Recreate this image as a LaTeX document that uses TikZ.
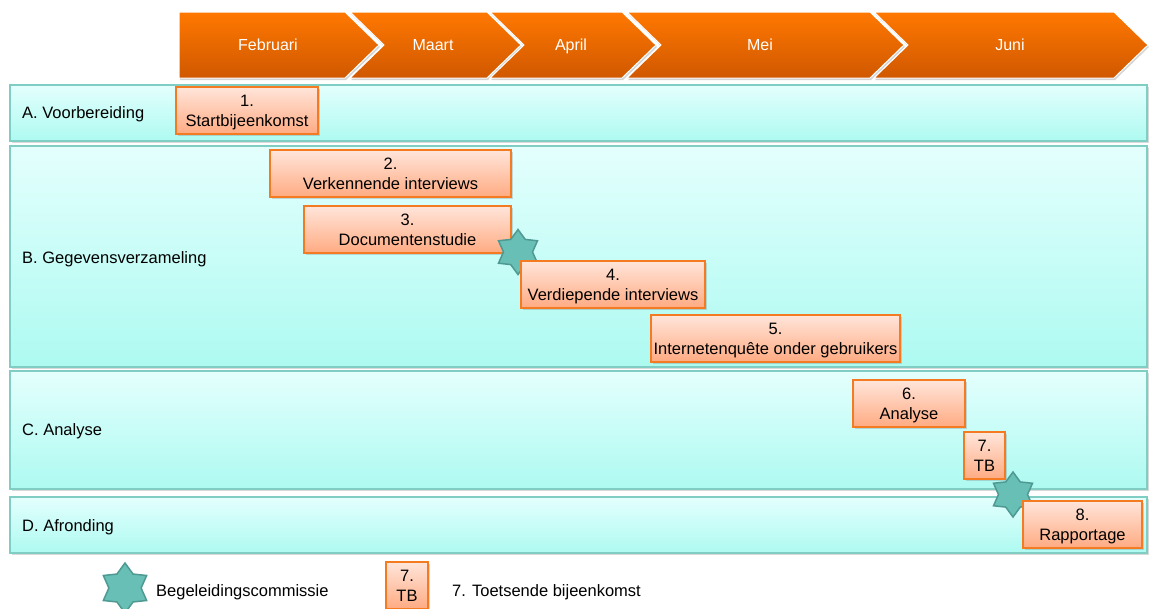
\documentclass[tikz,border=0pt]{standalone}
\usepackage{fontspec}
\setmainfont{Liberation Sans}
\usetikzlibrary{shapes.geometric,shadows}

\definecolor{monthtop}{HTML}{FF7800}
\definecolor{monthbot}{HTML}{D05800}
\definecolor{lanetop}{HTML}{E4FFFD}
\definecolor{lanebot}{HTML}{ADFAF1}
\definecolor{laneline}{HTML}{7FCDC3}
\definecolor{tasktop}{HTML}{FFE5DA}
\definecolor{taskbot}{HTML}{FFAB82}
\definecolor{taskline}{HTML}{F47B22}
\definecolor{starfill}{HTML}{68BFB5}
\definecolor{starline}{HTML}{4E9A93}

\begin{document}
\begin{tikzpicture}[x=1pt,y=-1pt]
	\tikzstyle{month} = [top color=monthtop,bottom color=monthbot,draw=white,line width=1pt,
		drop shadow={shadow xshift=1pt,shadow yshift=-2pt,opacity=0.35}]
	\tikzstyle{monthtext} = [text=white,text height=11.5pt,text depth=0pt,font=\fontsize{16}{19}\selectfont]
	\tikzstyle{lane} = [rectangle,draw=laneline,line width=1.5pt,top color=lanetop,bottom color=lanebot,
		drop shadow={shadow xshift=2pt,shadow yshift=-2pt,opacity=0.3}]
	\tikzstyle{task} = [rectangle,draw=taskline,line width=1.2pt,top color=tasktop,bottom color=taskbot,
		minimum height=47pt,inner sep=0pt,align=center,text depth=-1pt,font=\fontsize{16.5}{20}\selectfont,
		drop shadow={shadow xshift=2pt,shadow yshift=-2pt,opacity=0.3}]
	\tikzstyle{bc} = [star,star points=6,star point ratio=1.55,minimum size=45pt,inner sep=0pt,
		fill=starfill,draw=starline,line width=1.5pt]
	\tikzstyle{label} = [anchor=base west,inner sep=0pt,font=\fontsize{16.5}{20}\selectfont]

	\useasboundingbox (0,0) rectangle (1149,608);

	% maanden
	\path[month] (179,12) -- (345,12) -- (379,45) -- (345,78) -- (179,78) -- cycle;
	\foreach \xa/\xb in {350/487, 490/622, 627/870, 874/1114}
		\path[month] (\xa,12) -- (\xb,12) -- (\xb+34,45) -- (\xb,78) -- (\xa,78) -- (\xa+34,45) -- cycle;
	\node[monthtext] (feb) at (268,45) {Februari};
	\node[monthtext] (mrt) at (433,45) {Maart};
	\node[monthtext] (apr) at (571,45) {April};
	\node[monthtext] (mei) at (760,45) {Mei};
	\node[monthtext] (jun) at (1010,45) {Juni};

	% fasen
	\node[lane,minimum width=1137pt,minimum height=56pt] (laneA) at (578.5,113) {};
	\node[lane,minimum width=1137pt,minimum height=221pt] (laneB) at (578.5,256.5) {};
	\node[lane,minimum width=1137pt,minimum height=118pt] (laneC) at (578.5,430) {};
	\node[lane,minimum width=1137pt,minimum height=56pt] (laneD) at (578.5,525) {};
	\node[label] (labA) at (22,118.5) {A. Voorbereiding};
	\node[label] (labB) at (22,263) {B. Gegevensverzameling};
	\node[label] (labC) at (22,435) {C. Analyse};
	\node[label] (labD) at (22,531) {D. Afronding};

	% activiteiten
	\node[task,minimum width=142pt] (t1) at (247,110.5) {1.\\Startbijeenkomst};
	\node[task,minimum width=241pt] (t2) at (390.5,173.5) {2.\\Verkennende interviews};
	\node[task,minimum width=207pt] (t3) at (407.5,229.5) {3.\\Documentenstudie};
	\node[bc] (bc1) at (518,252) {};
	\node[task,minimum width=184pt] (t4) at (613,284.5) {4.\\Verdiepende interviews};
	\node[task,minimum width=249pt] (t5) at (775.5,338.5) {5.\\Internetenquête onder gebruikers};
	\node[task,minimum width=112pt] (t6) at (909,403.5) {6.\\Analyse};
	\node[task,minimum width=41pt] (t7) at (984.5,455.5) {7.\\TB};
	\node[bc] (bc2) at (1013,494.5) {};
	\node[task,minimum width=119pt] (t8) at (1082.5,524.5) {8.\\Rapportage};

	% legenda
	\node[bc,minimum size=50pt] (lbc) at (125,588) {};
	\node[label] (lbctxt) at (156,596) {Begeleidingscommissie};
	\node[task,minimum width=42pt] (ltb) at (407,585.5) {7.\\TB};
	\node[label] (ltbtxt) at (452,596) {7. Toetsende bijeenkomst};
\end{tikzpicture}
\end{document}
